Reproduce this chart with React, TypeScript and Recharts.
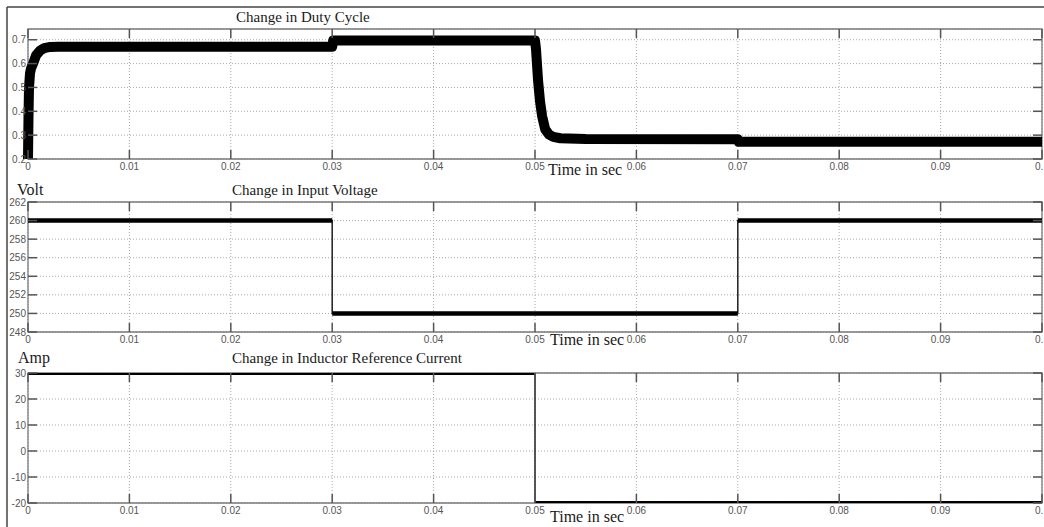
import { LineChart, Line, XAxis, YAxis, CartesianGrid, ReferenceArea } from "recharts";

// time axis shared by all three scopes
const timeTicks = [0, 0.01, 0.02, 0.03, 0.04, 0.05, 0.06, 0.07, 0.08, 0.09, 0.1];

// duty cycle trace
const dutyTime = [
  0, 0.00005, 0.0001, 0.0002, 0.0003, 0.0005, 0.0008, 0.0012, 0.0016, 0.0022, 0.003, 0.03, 0.0301, 0.05,
  0.0501, 0.0503, 0.0505, 0.0507, 0.051, 0.0514, 0.0518, 0.0525, 0.055, 0.07, 0.0701, 0.1,
];
const dutyValue = [
  0.2, 0.38, 0.5, 0.56, 0.58, 0.6, 0.635, 0.655, 0.665, 0.67, 0.671, 0.671, 0.697, 0.697,
  0.66, 0.53, 0.44, 0.38, 0.325, 0.302, 0.293, 0.287, 0.284, 0.283, 0.272, 0.272,
];
const dutyTicks = [0.2, 0.3, 0.4, 0.5, 0.6, 0.7];
const dutyDomain = [0.2, 0.745];

// input voltage steps
const voltSwitchTimes = [0, 0.03, 0.07, 0.1];
const voltLevels = [260, 250, 260];
const voltTicks = [248, 250, 252, 254, 256, 258, 260, 262];

// inductor reference current steps
const ampSwitchTimes = [0, 0.05, 0.1];
const ampLevels = [30, -20];
const ampTicks = [-20, -10, 0, 10, 20, 30];

const PLOT_W = 1014;
const PLOT_H = 130;
const tickFont = "'Liberation Sans Narrow', 'Liberation Sans', Arial, sans-serif";
const serif = "'Liberation Serif', 'Times New Roman', serif";

type Row = { t: number; thick?: number | null; thin?: number | null };

function stepRows(times: number[], levels: number[]): Row[] {
  const rows: Row[] = [];
  levels.forEach((lvl, i) => {
    if (i > 0) rows.push({ t: times[i], thick: null });
    rows.push({ t: times[i], thick: lvl, thin: lvl });
    rows.push({ t: times[i + 1], thick: lvl, thin: lvl });
  });
  return rows;
}

function XTick(props: any) {
  const { x, y, payload } = props;
  return (
    <g>
      <line x1={x} x2={x} y1={y} y2={y - 9} stroke="#555" strokeWidth={1.5} />
      <line x1={x} x2={x} y1={y - PLOT_H} y2={y - PLOT_H + 9} stroke="#555" strokeWidth={1.5} />
      <text x={x} y={y + 11} textAnchor="middle" fontSize={10} fill="#555" fontFamily={tickFont}>
        {String(payload.value)}
      </text>
    </g>
  );
}

function YTick(props: any) {
  const { x, y, payload } = props;
  return (
    <g>
      <line x1={x} x2={x + 9} y1={y} y2={y} stroke="#555" strokeWidth={1.5} />
      <line x1={x + PLOT_W - 9} x2={x + PLOT_W} y1={y} y2={y} stroke="#555" strokeWidth={1.5} />
      <text x={x - 2} y={y + 3.5} textAnchor="end" fontSize={10} fill="#555" fontFamily={tickFont}>
        {String(payload.value)}
      </text>
    </g>
  );
}

interface ScopeProps {
  top: number;
  data: Row[];
  yTicks: number[];
  yDomain: number[];
  thickWidth: number;
  thin: boolean;
}

function Scope({ top, data, yTicks, yDomain, thickWidth, thin }: ScopeProps) {
  return (
    <div style={{ position: "absolute", left: 0, top }}>
      <LineChart width={1044} height={179} data={data} margin={{ top: 29, right: 2, bottom: 0, left: 0 }}>
        <CartesianGrid stroke="#aaa" strokeDasharray="1 2" />
        <ReferenceArea
          x1={timeTicks[0]}
          x2={timeTicks[timeTicks.length - 1]}
          y1={yDomain[0]}
          y2={yDomain[1]}
          fill="none"
          stroke="#7a7a7a"
          strokeWidth={1.3}
        />
        <XAxis
          dataKey="t"
          type="number"
          domain={[0, 0.1]}
          ticks={timeTicks}
          interval={0}
          height={20}
          axisLine={false}
          tickLine={false}
          tickSize={0}
          tickMargin={0}
          tick={<XTick />}
        />
        <YAxis
          type="number"
          domain={yDomain}
          ticks={yTicks}
          interval={0}
          width={28}
          axisLine={false}
          tickLine={false}
          tickSize={0}
          tickMargin={0}
          allowDataOverflow
          tick={<YTick />}
        />
        {thin && (
          <Line
            dataKey="thin"
            stroke="#222"
            strokeWidth={1.5}
            dot={false}
            connectNulls
            isAnimationActive={false}
          />
        )}
        <Line
          dataKey="thick"
          stroke="#000"
          strokeWidth={thickWidth}
          dot={false}
          strokeLinejoin="round"
          isAnimationActive={false}
        />
      </LineChart>
    </div>
  );
}

export default function App() {
  const dutyData: Row[] = dutyTime.map((t, i) => ({ t, thick: dutyValue[i] }));
  const voltData = stepRows(voltSwitchTimes, voltLevels);
  const ampData = stepRows(ampSwitchTimes, ampLevels);

  return (
    <div
      style={{
        position: "fixed",
        left: 0,
        top: 0,
        width: 1044,
        height: 527,
        overflow: "hidden",
        background: "#fff",
      }}
    >
      <Scope top={0} data={dutyData} yTicks={dutyTicks} yDomain={dutyDomain} thickWidth={10} thin={false} />
      <Scope top={173} data={voltData} yTicks={voltTicks} yDomain={[248, 262]} thickWidth={4.5} thin />
      <Scope top={344} data={ampData} yTicks={ampTicks} yDomain={[-20, 30]} thickWidth={4} thin />
      <svg
        width={1044}
        height={527}
        style={{ position: "absolute", left: 0, top: 0, pointerEvents: "none" }}
      >
        <line x1={7} x2={1044} y1={7} y2={7} stroke="#444" strokeWidth={1.5} />
        <line x1={7} x2={7} y1={7} y2={527} stroke="#444" strokeWidth={1.5} />
        <g fontFamily={serif} fill="#1a1a1a">
          <text x={236} y={22} fontSize={15}>Change in Duty Cycle</text>
          <text x={232} y={195} fontSize={15}>Change in Input Voltage</text>
          <text x={232} y={363} fontSize={15}>Change in Inductor Reference Current</text>
          <text x={17} y={195} fontSize={16}>Volt</text>
          <text x={18} y={363} fontSize={16}>Amp</text>
          <text x={548} y={175} fontSize={16}>Time in sec</text>
          <text x={550} y={345} fontSize={16}>Time in sec</text>
          <text x={550} y={522} fontSize={16}>Time in sec</text>
        </g>
      </svg>
    </div>
  );
}
